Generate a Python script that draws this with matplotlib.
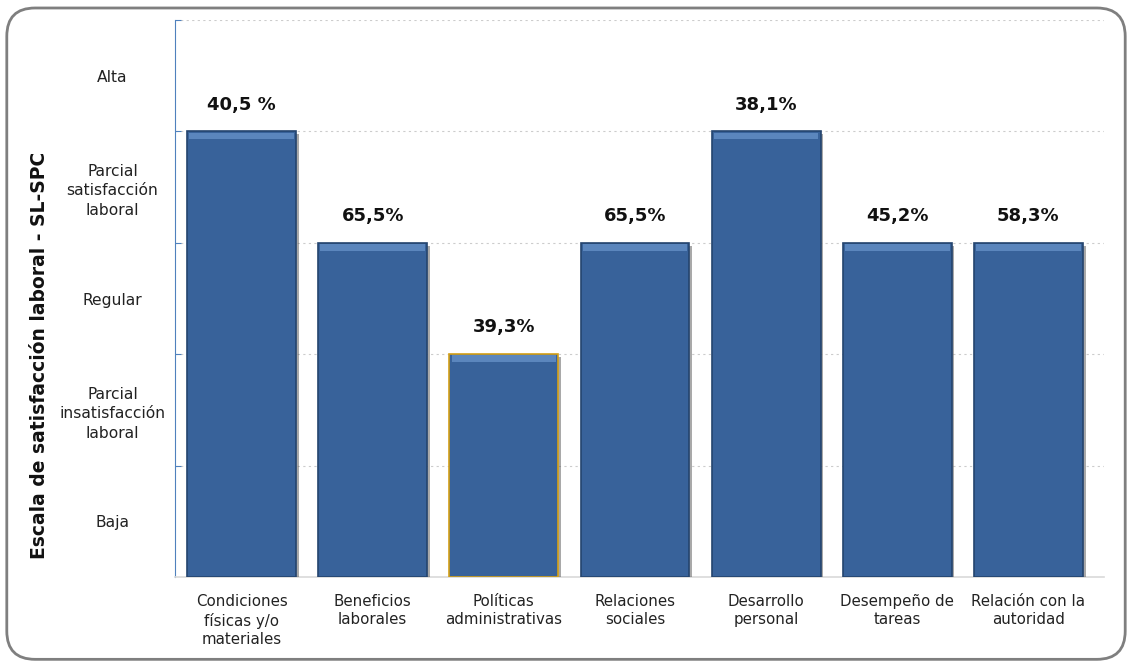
import matplotlib.pyplot as plt
import matplotlib.patheffects as pe
from matplotlib.patches import FancyBboxPatch
import numpy as np

categories = ["Condiciones\nfísicas y/o\nmateriales", "Beneficios\nlaborales",
              "Políticas\nadministrativas", "Relaciones\nsociales",
              "Desarrollo\npersonal", "Desempeño de\ntareas", "Relación con la\nautoridad"]
levels = [4, 3, 2, 3, 4, 3, 3]
pct_labels = ["40,5 %", "65,5%", "39,3%", "65,5%", "38,1%", "45,2%", "58,3%"]
scale_labels = ["Baja", "Parcial\ninsatisfacción\nlaboral", "Regular",
                "Parcial\nsatisfacción\nlaboral", "Alta"]

plt.rcParams['font.family'] = ['DejaVu Sans']

fig = plt.figure(figsize=(11.32, 6.66), dpi=100)

# rounded frame around the chart
frame = FancyBboxPatch((0.006, 0.01), 0.988, 0.978, boxstyle="round,pad=0,rounding_size=0.025",
                       transform=fig.transFigure, facecolor='white', edgecolor='#7f7f7f',
                       linewidth=2, mutation_aspect=1132 / 666, zorder=-1)
fig.patches.append(frame)

ax = fig.add_axes([0.1546, 0.1336, 0.8204, 0.8364])
ax.set_facecolor('none')

x = np.arange(len(categories))
edges = ['#24446e'] * len(categories)
edges[2] = '#d4a017'
bars = ax.bar(x, levels, width=0.83, color='#38629a', edgecolor=edges, linewidth=1.2, zorder=3)
for b in bars:
    b.set_path_effects([pe.SimplePatchShadow(offset=(2, -2), shadow_rgbFace='#555555', alpha=0.5),
                        pe.Normal()])
    # light bevel strip on top of each bar
    ax.bar(b.get_x() + b.get_width() / 2, 0.06, width=b.get_width() * 0.96,
           bottom=b.get_height() - 0.07, color='#5b86bd', linewidth=0, zorder=4)

for xi, h, t in zip(x, levels, pct_labels):
    ax.text(xi, h + 0.24, t, ha='center', va='center', fontsize=13, fontweight='bold', color='#111111')

ax.set_xlim(-0.507, 6.574)
ax.set_ylim(0, 5)
ax.set_yticks([1, 2, 3, 4, 5])
ax.set_yticklabels([])
ax.set_yticks([0.5, 1.5, 2.5, 3.5, 4.5], minor=True)
ax.set_yticklabels(scale_labels, minor=True, fontsize=11.2, ha='center', color='#222222',
                   linespacing=1.4)
ax.tick_params(axis='y', which='minor', length=0, pad=45)
ax.tick_params(axis='y', which='major', length=4, color='#4f81bd', direction='in')
ax.grid(axis='y', which='major', linestyle=(0, (2, 3)), color='#cccccc', linewidth=0.8, zorder=0)

ax.set_xticks(x)
ax.set_xticklabels(categories, fontsize=10.8, color='#222222', linespacing=1.3)
ax.tick_params(axis='x', length=0, pad=12)

for s in ['top', 'right']:
    ax.spines[s].set_visible(False)
ax.spines['left'].set_color('#4f81bd')
ax.spines['bottom'].set_color('#d9d9d9')
ax.spines['bottom'].set_linewidth(1.2)

fig.text(0.035, 0.467, "Escala de satisfacción laboral - SL-SPC", rotation=90, ha='center', va='center',
         fontsize=13.5, fontweight='bold', color='#111111')

fig.savefig('out.png', dpi=100)
